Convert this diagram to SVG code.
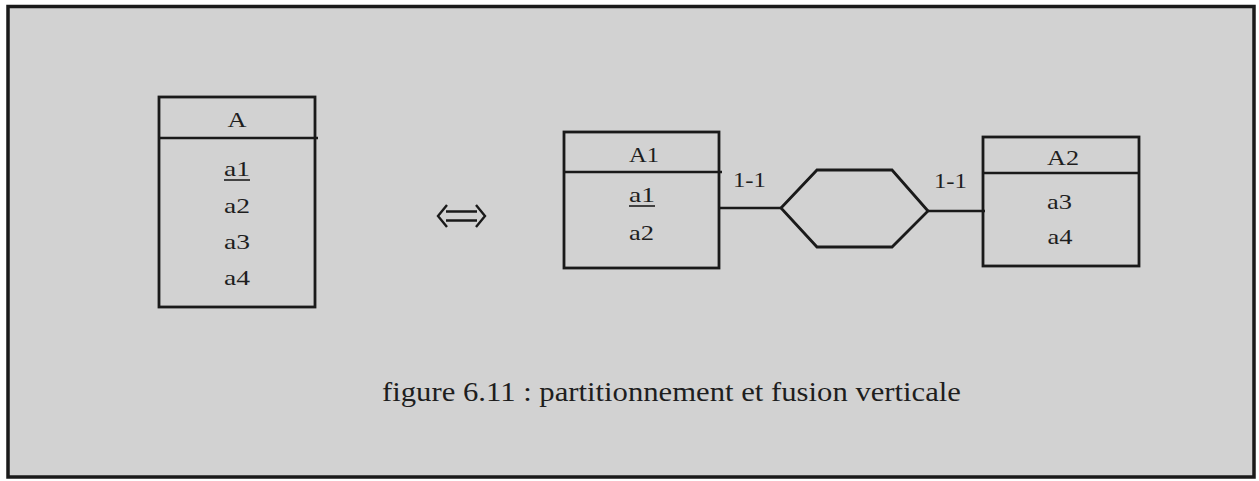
<svg xmlns="http://www.w3.org/2000/svg" width="1259" height="481" viewBox="0 0 1259 481">
<style>
.bx{fill:none;stroke:#1a1a1a;stroke-width:2.8}
.ln{fill:none;stroke:#1a1a1a;stroke-width:2.6}
.ul{stroke:#1e1e1e;stroke-width:1.6}
text{font-family:"Liberation Serif","Times New Roman",serif;fill:#1e1e1e;text-anchor:middle}
.t{font-size:21.5px}
.c{font-size:27px}
</style>
<rect x="0" y="0" width="1259" height="481" fill="#ffffff"/>
<rect x="8" y="6.5" width="1246" height="470.5" fill="#d2d2d2" stroke="#1a1a1a" stroke-width="3.5"/>
<g id="A">
<rect class="bx" x="159" y="97" width="156" height="210"/>
<line class="ln" x1="159" y1="138" x2="318" y2="138"/>
<text class="t" x="237" y="127" textLength="19" lengthAdjust="spacingAndGlyphs">A</text>
<text class="t" x="237" y="176" textLength="26" lengthAdjust="spacingAndGlyphs">a1</text>
<line class="ul" x1="224" y1="180" x2="250" y2="180"/>
<text class="t" x="237" y="213" textLength="26" lengthAdjust="spacingAndGlyphs">a2</text>
<text class="t" x="237" y="249" textLength="26" lengthAdjust="spacingAndGlyphs">a3</text>
<text class="t" x="237" y="285" textLength="26" lengthAdjust="spacingAndGlyphs">a4</text>
</g>
<g id="equiv">
<path d="M446 211.5 L477 211.5 M446 220.5 L477 220.5 M447 205 L438 216 L447 227 M476 205 L485 216 L476 227" fill="none" stroke="#1a1a1a" stroke-width="2.4"/>
</g>
<g id="A1">
<rect class="bx" x="564" y="132" width="155" height="136"/>
<line class="ln" x1="564" y1="172" x2="722" y2="172"/>
<text class="t" x="644" y="162" textLength="30" lengthAdjust="spacingAndGlyphs">A1</text>
<text class="t" x="642" y="202" textLength="26" lengthAdjust="spacingAndGlyphs">a1</text>
<line class="ul" x1="629" y1="206" x2="655" y2="206"/>
<text class="t" x="641.5" y="240" textLength="25" lengthAdjust="spacingAndGlyphs">a2</text>
</g>
<g id="R">
<polygon class="bx" points="781,208 817,170 892,170 928,211 892,247 817,247"/>
</g>
<g id="A2">
<rect class="bx" x="983" y="137" width="156" height="129"/>
<line class="ln" x1="983" y1="173" x2="1139" y2="173"/>
<text class="t" x="1063" y="165" textLength="32" lengthAdjust="spacingAndGlyphs">A2</text>
<text class="t" x="1059.5" y="209" textLength="25" lengthAdjust="spacingAndGlyphs">a3</text>
<text class="t" x="1060" y="244" textLength="25" lengthAdjust="spacingAndGlyphs">a4</text>
</g>
<g id="connectors">
<line class="ln" x1="719" y1="208" x2="781" y2="208"/>
<line class="ln" x1="928" y1="211" x2="985" y2="211"/>
<text class="t" x="749.5" y="187" textLength="33" lengthAdjust="spacingAndGlyphs">1-1</text>
<text class="t" x="950.5" y="188" textLength="33" lengthAdjust="spacingAndGlyphs">1-1</text>
</g>
<text class="c" x="671.5" y="401" textLength="579" lengthAdjust="spacingAndGlyphs">figure 6.11 : partitionnement et fusion verticale</text>
</svg>
